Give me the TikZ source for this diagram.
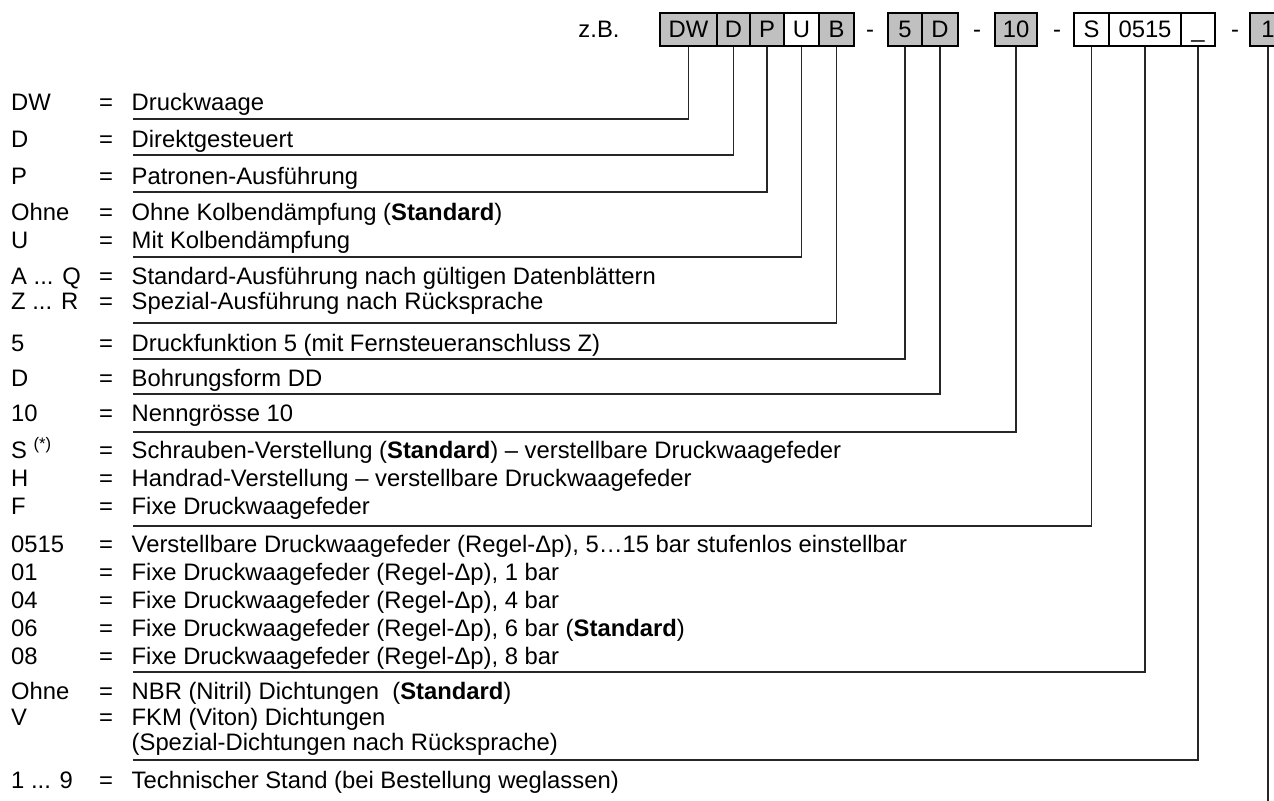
\documentclass[tikz,border=0pt]{standalone}
\usepackage{fontspec}
\setmainfont{Liberation Sans}
\definecolor{boxgray}{RGB}{192,192,192}
\tikzset{
  codebox/.style={draw=black, line width=1.2bp, minimum height=33bp, inner sep=0pt, text height=17bp, text depth=0bp},
  graybox/.style={codebox, fill=boxgray},
  whitebox/.style={codebox, fill=white},
  leader/.style={draw=black!85, line width=1.4bp},
  row/.style={anchor=base west, inner sep=0pt},
  sep/.style={anchor=base, inner sep=0pt},
}

\begin{document}
\begin{tikzpicture}[x=1bp, y=-1bp, font=\fontsize{23.9}{28}\selectfont]
\useasboundingbox (0,0) rectangle (1274,801);
% type code
\node[sep] (zb) at (599,38) {z.B.};
\node[graybox, minimum width=57bp] (bDW) at (688.5,29.5) {DW};
\node[graybox, minimum width=33bp] (bD) at (733.5,29.5) {D};
\node[graybox, minimum width=34bp] (bP) at (767,29.5) {P};
\node[whitebox, minimum width=35bp] (bU) at (801.5,29.5) {U};
\node[graybox, minimum width=35bp] (bB) at (836.5,29.5) {B};
\node[sep] (s1) at (870,38) {-};
\node[graybox, minimum width=34bp] (b5) at (905,29.5) {5};
\node[graybox, minimum width=36bp] (bD2) at (940,29.5) {D};
\node[sep] (s2) at (977,38) {-};
\node[graybox, minimum width=42bp] (b10) at (1016,29.5) {10};
\node[sep] (s3) at (1057,38) {-};
\node[whitebox, minimum width=35bp] (bS) at (1091.5,29.5) {S};
\node[whitebox, minimum width=72bp] (b0515) at (1145,29.5) {0515};
\node[whitebox, minimum width=34bp] (bDicht) at (1198,29.5) {\_};
\node[sep] (s4) at (1235,38) {-};
\node[graybox, minimum width=36bp] (bStand) at (1268,29.5) {1};
% legend
\foreach \n/\y/\key/\desc in {
  1/111/DW/Druckwaage,
  2/147/D/Direktgesteuert,
  3/184/P/Patronen-Ausführung,
  4/220/Ohne/{Ohne Kolbendämpfung (\textbf{Standard})},
  5/248/U/Mit Kolbendämpfung,
  6/284/{A ... Q}/Standard-Ausführung nach gültigen Datenblättern,
  7/309/{Z ... R}/Spezial-Ausführung nach Rücksprache,
  8/351/5/{Druckfunktion 5 (mit Fernsteueranschluss Z)},
  9/386/D/Bohrungsform DD,
  10/421/10/Nenngrösse 10,
  11/458/{S \textsuperscript{(*)}}/{Schrauben-Verstellung (\textbf{Standard}) – verstellbare Druckwaagefeder},
  12/486/H/Handrad-Verstellung – verstellbare Druckwaagefeder,
  13/514/F/Fixe Druckwaagefeder,
  14/552/0515/{Verstellbare Druckwaagefeder (Regel-Δp), 5…15 bar stufenlos einstellbar},
  15/580/01/{Fixe Druckwaagefeder (Regel-Δp), 1 bar},
  16/608/04/{Fixe Druckwaagefeder (Regel-Δp), 4 bar},
  17/636/06/{Fixe Druckwaagefeder (Regel-Δp), 6 bar (\textbf{Standard})},
  18/664/08/{Fixe Druckwaagefeder (Regel-Δp), 8 bar},
  19/699/Ohne/{NBR (Nitril) Dichtungen~ (\textbf{Standard})},
  20/725/V/FKM (Viton) Dichtungen,
  22/788/{1 ... 9}/Technischer Stand (bei Bestellung weglassen)}
{
  \node[row] (k\n) at (11,\y) {\key};
  \node[row] (e\n) at (99,\y) {=};
  \node[row] (t\n) at (131.5,\y) {\desc};
}
\node[row] (t21) at (131.5,750) {(Spezial-Dichtungen nach Rücksprache)};
% leaders
\foreach \b/\y in {bDW/119, bD/155, bP/192, bU/257, bB/323, b5/359, bD2/394, b10/432, bS/526, b0515/672, bDicht/760}
{
  \coordinate (l\b) at (133,\y);
  \draw[leader] (\b.south) |- (l\b);
}
\coordinate (lEnd) at (1268,801);
\draw[leader] (bStand.south) -- (bStand.south |- lEnd);
\end{tikzpicture}
\end{document}
